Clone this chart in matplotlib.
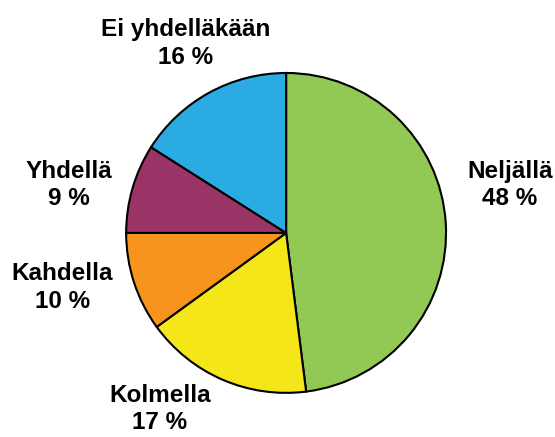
import matplotlib
matplotlib.use("Agg")
import matplotlib.pyplot as plt

categories = ["Neljällä", "Kolmella", "Kahdella", "Yhdellä", "Ei yhdelläkään"]
values = [48, 17, 10, 9, 16]
colors = ["#92C954", "#F5E61A", "#F7941D", "#9B3466", "#2AACE2"]
label_pos = [(1.40, 0.30), (-0.79, -1.10), (-1.40, -0.34), (-1.36, 0.30), (-0.63, 1.185)]

fig = plt.figure(figsize=(5.55, 4.37), dpi=100)
ax = fig.add_axes([0.227, 0.101, 0.577, 0.732])
ax.pie(values, colors=colors, startangle=90, counterclock=False,
       wedgeprops=dict(edgecolor="black", linewidth=1.5))
ax.set_xlim(-1, 1)
ax.set_ylim(-1, 1)
ax.set_aspect("equal")
for cat, v, (x, y) in zip(categories, values, label_pos):
    ax.text(x, y, f"{cat}\n{v} %", ha="center", va="center", fontsize=17.5,
            fontweight="bold", family="Liberation Sans", linespacing=1.25,
            clip_on=False)
fig.savefig("out.png", dpi=100)
